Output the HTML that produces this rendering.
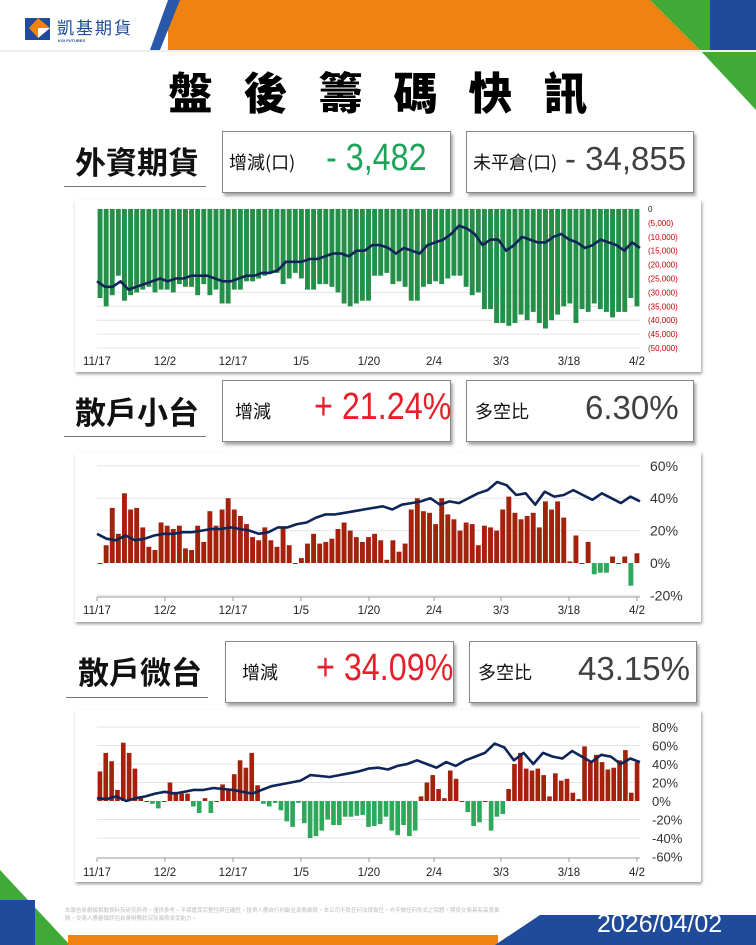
<!DOCTYPE html>
<html><head><meta charset="utf-8"><style>
*{margin:0;padding:0;box-sizing:border-box}
body{width:756px;height:945px;overflow:hidden;background:#fff;position:relative;font-family:"Liberation Sans","Noto Sans CJK TC",sans-serif}
.abs{position:absolute}
.lbl{position:absolute;font-size:31px;font-weight:bold;color:#111;font-family:"Noto Sans CJK TC",sans-serif;white-space:nowrap}
.ul{position:absolute;height:1px;background:#777}
.box{position:absolute;border:1px solid #888;background:#fff;box-shadow:2px 3px 3px rgba(0,0,0,.35);height:62px}
.bt{position:absolute;top:17px;font-size:18px;color:#111;font-family:"Noto Sans CJK TC",sans-serif;white-space:nowrap}
.bv{position:absolute;top:6px;font-size:36px;font-family:"Liberation Sans","Noto Sans CJK TC",sans-serif;white-space:nowrap}
.sc{transform:scaleX(.85);transform-origin:0 0;font-size:38px;top:5px}
.panel{position:absolute;left:75px;width:626px;background:#fff;box-shadow:1px 2px 3px rgba(0,0,0,.4)}
</style></head><body>
<svg class="abs" style="left:0;top:0" width="756" height="110">
<polygon points="150,0 650,0 700,50 120,50" fill="#ef8312"/>
<polygon points="650,0 710,0 710,50 700,50" fill="#3faa35"/>
<polygon points="700,50 756,50 756,110" fill="#3faa35"/>
<rect x="710" y="0" width="46" height="50" fill="#1f4b9a"/>
<rect x="0" y="0" width="168" height="50" fill="#fff"/>
<polygon points="168,0 180,0 160,50 150,50" fill="#2a58a8"/>
<rect x="0" y="50" width="756" height="2" fill="#eee"/>
<rect x="25" y="18" width="25" height="22" fill="#1f4b9a"/>
<polygon points="29,28 38,18 50,28 38,38" fill="#ef8312"/>
<polygon points="38,28 50,28 38,38" fill="#fff"/>
</svg>
<div class="abs" style="left:57px;top:14px;font-size:17px;color:#1f4b9a;font-family:'Noto Sans CJK TC',sans-serif;letter-spacing:2px">凱基期貨</div>
<div class="abs" style="left:58px;top:38px;font-size:4px;color:#1f4b9a;font-weight:bold">KGI FUTURES</div>
<div class="abs" style="left:0;width:756px;top:58px;text-align:center;font-size:44px;font-weight:900;letter-spacing:31px;padding-left:31px;font-family:'Noto Sans CJK TC',sans-serif;color:#000">盤後籌碼快訊</div>

<div class="lbl" style="left:75px;top:138px">外資期貨</div>
<div class="ul" style="left:64px;top:186px;width:142px"></div>
<div class="box" style="left:222px;top:131px;width:229px"><span class="bt" style="left:6px">增減(口)</span><span class="bv sc" style="left:103px;color:#1ea35a">- 3,482</span></div>
<div class="box" style="left:466px;top:131px;width:228px"><span class="bt" style="left:6px">未平倉(口)</span><span class="bv" style="left:98px;color:#404040;font-size:33px;top:8px">- 34,855</span></div>
<div class="panel" style="top:200px;height:172px"></div>

<div class="lbl" style="left:75px;top:388px">散戶小台</div>
<div class="ul" style="left:64px;top:436px;width:142px"></div>
<div class="box" style="left:222px;top:380px;width:229px"><span class="bt" style="left:12px">增減</span><span class="bv sc" style="left:91px;color:#e5202a">+ 21.24%</span></div>
<div class="box" style="left:466px;top:380px;width:228px"><span class="bt" style="left:8px">多空比</span><span class="bv" style="left:118px;color:#404040;font-size:33px;top:8px">6.30%</span></div>
<div class="panel" style="top:452px;height:170px"></div>

<div class="lbl" style="left:78px;top:648px">散戶微台</div>
<div class="ul" style="left:66px;top:697px;width:142px"></div>
<div class="box" style="left:225px;top:641px;width:229px"><span class="bt" style="left:16px">增減</span><span class="bv sc" style="left:90px;color:#e5202a">+ 34.09%</span></div>
<div class="box" style="left:469px;top:641px;width:228px"><span class="bt" style="left:8px">多空比</span><span class="bv" style="left:108px;color:#404040;font-size:33px;top:8px">43.15%</span></div>
<div class="panel" style="top:710px;height:172px"></div>

<svg class="abs" style="left:0;top:870px" width="756" height="75">
<polygon points="0,0 70,75 0,75" fill="#3faa35"/>
<polygon points="0,30 35,30 35,75 0,75" fill="#1f4b9a"/>
<rect x="68" y="65" width="430" height="10" fill="#ef8312"/>
<polygon points="540,45 756,45 756,75 495,75" fill="#1f4b9a"/>
</svg>
<div class="abs" style="left:597px;top:910px;font-size:25px;color:#fff">2026/04/02</div>
<div class="abs" style="left:65px;top:906px;width:445px;font-size:5.5px;line-height:8px;color:#bbb;font-family:'Noto Sans CJK TC',sans-serif">本報告係根據相關資料及研究所得，僅供參考，不保證其完整性與正確性，投資人應自行判斷並承擔風險。本公司不負任何法律責任，亦不做任何形式之保證，期貨交易具有高度風險，交易人應審慎評估自身財務狀況及風險承受能力。</div>

<svg id="c1" class="abs" style="left:0;top:0;z-index:5" width="756" height="945"></svg>
<script>
var svg=document.getElementById('c1'),s='';
var X0=97,X1=640;
var labels=['11/17','12/2','12/17','1/5','1/20','2/4','3/3','3/18','4/2'];
var lx=[97,165,233,301,369,434,501,569,637];
function chart(o){
  var n=o.bars.length,w=(X1-X0)/n;
  o.grid.forEach(function(g){s+='<line x1="'+X0+'" x2="'+X1+'" y1="'+o.y(g)+'" y2="'+o.y(g)+'" stroke="#e4e4e4" stroke-width="1"/>';});
  o.bars.forEach(function(v,i){var y0=o.y(0),y1=o.y(v);var c=o.col(v);
    s+='<rect x="'+(X0+i*w+0.6).toFixed(2)+'" y="'+Math.min(y0,y1).toFixed(1)+'" width="'+(w-1.2).toFixed(2)+'" height="'+Math.max(Math.abs(y1-y0),1).toFixed(1)+'" fill="'+c+'"/>';});
  var L=o.line,m=L.length,p=[];
  L.forEach(function(v,i){p.push((X0+i*(X1-X0)/(m-1)).toFixed(1)+','+o.y(v).toFixed(1));});
  s+='<polyline points="'+p.join(' ')+'" fill="none" stroke="#0f2557" stroke-width="2.6" stroke-linejoin="round"/>';
  if(o.axis){s+='<line x1="'+X0+'" x2="'+X1+'" y1="'+o.axis+'" y2="'+o.axis+'" stroke="#999"/>';lx.forEach(function(x){s+='<line x1="'+x+'" x2="'+x+'" y1="'+o.axis+'" y2="'+(o.axis+4)+'" stroke="#999"/>';});}
  labels.forEach(function(t,i){s+='<text x="'+lx[i]+'" y="'+o.ly+'" font-size="11.5" fill="#222" text-anchor="middle" font-family="Liberation Sans">'+t+'</text>';});
  o.yl.forEach(function(a){s+='<text x="'+o.yx+'" y="'+(o.y(a[0])+o.yo)+'" font-size="'+o.fs+'" fill="'+a[2]+'" font-family="Liberation Sans">'+a[1]+'</text>';});
}
var b1=[32,35,31,24,33,31,30,29,28,30,29,29,30,27,28,28,31,27,31,29,34,34,29,29,26,26,25,24,23,23,27,25,23,25,29,29,27,27,28,30,34,35,34,33,33,24,24,23,27,26,28,33,33,28,27,26,27,25,24,24,28,31,30,36,36,41,41,42,41,38,40,37,41,43,40,38,35,34,41,36,37,34,36,37,39,37,37,32,35].map(function(v){return -v});
var l1=[26,28,28,26,29,28,27,26,25,26,25,25,24,24,24,25,26,26,25,24,24,23,23,22,19,19,19,18,18,17,16,16,17,15,15,13,13,14,16,14,15,16,13,12,11,9,6,7,9,13,11,11,15,13,10,11,12,12,10,9,11,12,14,13,11,12,13,15,12,14].map(function(v){return -v});
var yl1=[[0,'0','#222']];for(var k=5;k<=50;k+=5)yl1.push([-k,'('+k+',000)','#c00000']);
chart({bars:b1,line:l1,y:function(v){return 209+v/-50*139},grid:[-30,-35,-40,-45,-50],col:function(){return '#238f48'},ly:365,yl:yl1,yx:648,yo:3,fs:8});
var b2=[0,11,34,18,43,33,34,22,10,8,25,23,21,23,9,8,23,13,32,23,33,40,33,29,24,16,14,22,14,10,22,11,0,3,12,18,12,13,15,21,25,20,16,13,16,18,14,2,14,7,12,33,40,32,31,24,40,30,27,20,25,24,11,23,22,20,33,41,31,27,29,31,22,38,33,38,28,1,17,0,13,-7,-6,-6,4,0,4,-14,6];
var l2=[18,15,14,17,14,15,17,18,18,19,19,20,21,21,22,21,20,18,19,22,22,24,25,28,30,30,31,32,33,34,35,33,36,37,38,40,36,38,37,40,43,45,50,48,42,43,36,44,41,42,45,42,39,43,40,37,41,38];
chart({bars:b2,line:l2,y:function(v){return 563-v*1.62},grid:[60,40,20,-20],col:function(v){return v<0?'#2ea85a':'#a4220c'},axis:597,ly:614,yl:[[60,'60%','#333'],[40,'40%','#333'],[20,'20%','#333'],[0,'0%','#333'],[-20,'-20%','#333']],yx:650,yo:5,fs:14});
var b3=[32,52,43,12,63,52,35,3,0,-3,-8,0,20,10,8,8,-6,-13,3,-13,0,18,12,29,44,36,52,17,-3,-6,-2,-10,-22,-28,-2,-24,-40,-38,-32,-20,-26,-26,-17,-17,-16,-15,-28,-27,-25,-17,-32,-37,-26,-38,-32,5,20,28,13,3,33,24,0,-12,-27,-23,0,-32,-17,-14,13,40,52,35,33,35,28,5,30,22,24,9,2,59,42,50,42,34,36,44,55,9,42];
var l3=[3,2,5,0,3,5,8,10,8,10,12,12,14,13,12,10,8,12,16,18,20,22,28,27,26,28,30,32,35,36,34,38,40,44,40,36,42,38,44,48,52,62,58,44,52,40,52,48,46,54,48,42,50,48,40,46,42];
chart({bars:b3,line:l3,y:function(v){return 801-v*0.925},grid:[80,60,40,20,-20,-40],col:function(v){return v<0?'#2ea85a':'#a4220c'},axis:858,ly:876,yl:[[80,'80%','#333'],[60,'60%','#333'],[40,'40%','#333'],[20,'20%','#333'],[0,'0%','#333'],[-20,'-20%','#333'],[-40,'-40%','#333'],[-60,'-60%','#333']],yx:652,yo:5,fs:13});
svg.innerHTML=s;
</script>
</body></html>
